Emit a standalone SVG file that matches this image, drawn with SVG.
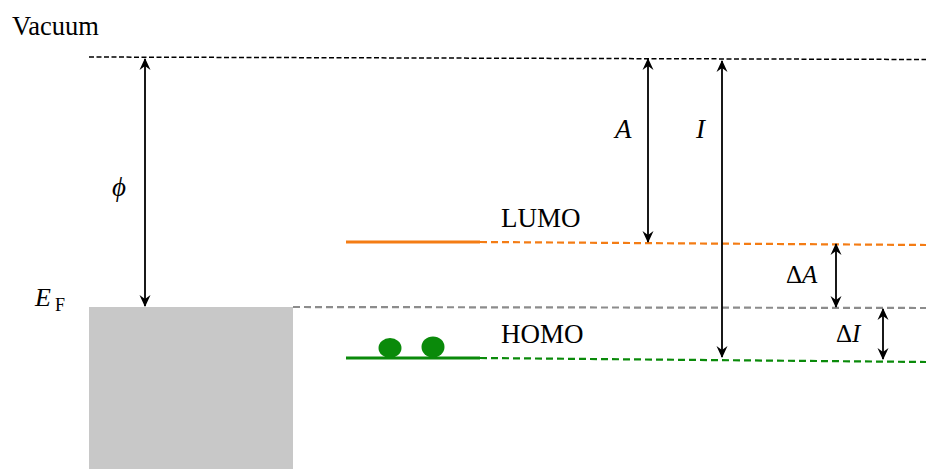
<svg xmlns="http://www.w3.org/2000/svg" width="926" height="469" viewBox="0 0 926 469">
<style>
.lbl{font-family:"Liberation Serif","Times New Roman",serif;font-size:27px;fill:#000}
.it{font-style:italic}
.arr{stroke:#000;stroke-width:1.8;fill:none;marker-start:url(#ah);marker-end:url(#ah)}
</style>
<defs>
<marker id="ah" viewBox="0 0 12 12" refX="11" refY="6" markerWidth="12" markerHeight="12" markerUnits="userSpaceOnUse" orient="auto-start-reverse">
<path d="M0,0.5 L12,6 L0,11.5 L4,6 Z" fill="#000"/>
</marker>
</defs>
<rect x="89" y="307" width="204" height="162" fill="#c8c8c8"/>
<g id="connectors">
<line x1="89" y1="57" x2="926" y2="59.5" stroke="#000" stroke-width="1.5" stroke-dasharray="5,2.5"/>
<line x1="293" y1="307" x2="926" y2="308" stroke="#8c8c8c" stroke-width="2.2" stroke-dasharray="7,4"/>
<line x1="346" y1="242" x2="480" y2="242" stroke="#f47c14" stroke-width="3"/>
<line x1="480" y1="242" x2="926" y2="245" stroke="#f47c14" stroke-width="2.2" stroke-dasharray="7,4"/>
<line x1="346" y1="358" x2="480" y2="358" stroke="#0a8a0a" stroke-width="3"/>
<line x1="480" y1="358" x2="926" y2="362" stroke="#0a8a0a" stroke-width="2.2" stroke-dasharray="7,4"/>
<line class="arr" x1="145" y1="59" x2="145" y2="306"/>
<line class="arr" x1="648" y1="59" x2="648" y2="242"/>
<line class="arr" x1="722" y1="61" x2="722" y2="357"/>
<line class="arr" x1="836" y1="244" x2="836" y2="307"/>
<line class="arr" x1="883" y1="309" x2="883" y2="359"/>
</g>
<g id="electrons">
<ellipse cx="390" cy="348" rx="11.5" ry="10" fill="#0a8a0a"/>
<ellipse cx="433" cy="347" rx="11.5" ry="10.5" fill="#0a8a0a"/>
</g>
<g id="labels">
<text class="lbl" x="12" y="35" style="font-size:26.5px">Vacuum</text>
<text class="lbl" x="501" y="227">LUMO</text>
<text class="lbl" x="501" y="343">HOMO</text>
<text class="lbl it" x="112" y="196">ϕ</text>
<text class="lbl it" x="615" y="138">A</text>
<text class="lbl it" x="696" y="138">I</text>
<text class="lbl it" x="35" y="306" style="font-size:26px">E</text>
<text class="lbl" x="55" y="311" style="font-size:18px">F</text>
<text class="lbl" x="786" y="283" style="font-size:25px">Δ<tspan class="it">A</tspan></text>
<text class="lbl" x="836" y="342" style="font-size:25px">Δ<tspan class="it">I</tspan></text>
</g>
</svg>
